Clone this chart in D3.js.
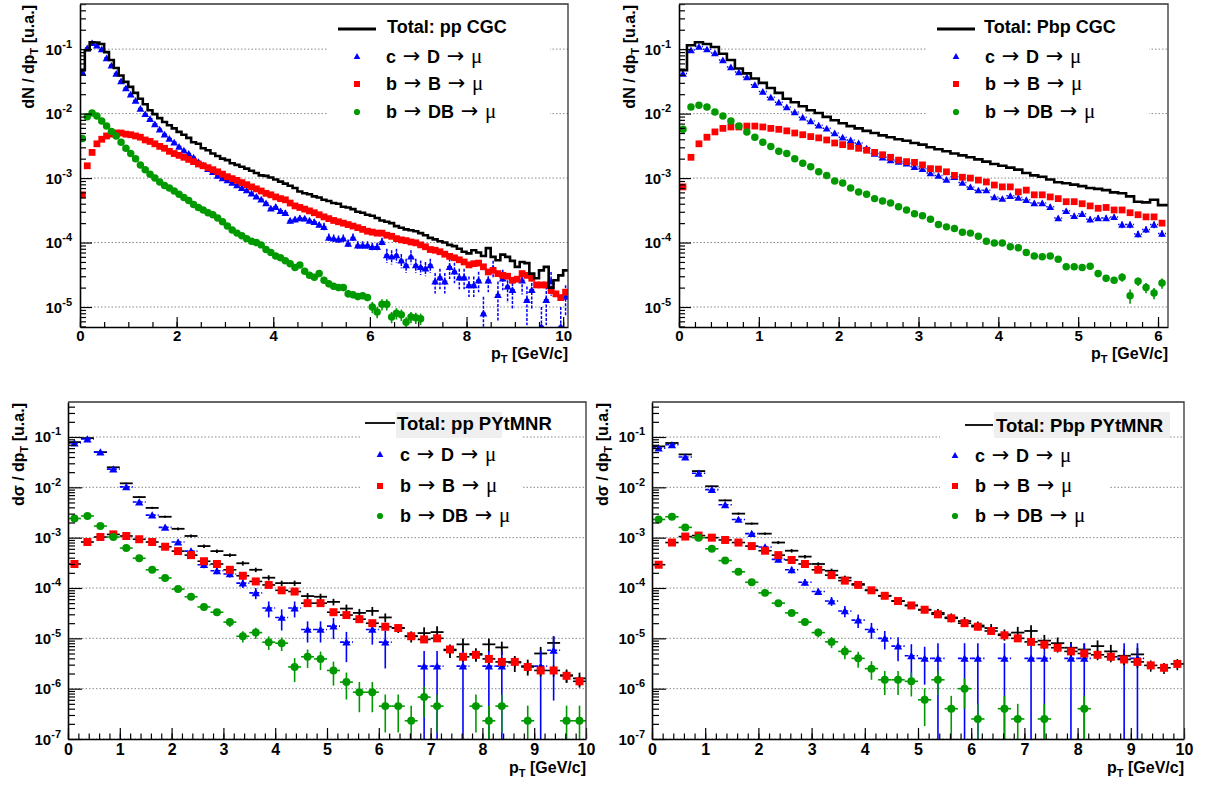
<!DOCTYPE html>
<html><head><meta charset="utf-8">
<script src="https://cdn.jsdelivr.net/npm/d3@7"></script>
<style>
body{margin:0;background:#fff}
svg{display:block}
text{font-family:"Liberation Sans",Arial,sans-serif;font-weight:bold;fill:#000}
</style>
</head><body>
<svg id="c" width="1217" height="787"></svg>
<script>
// ---------------- DATA ----------------
// pp CGC (bins of 0.1 GeV/c from 0)
const ppCgcTotal = [0.047,0.096,0.128,0.127,0.12,0.09,0.068,0.051,0.039,0.031,0.026,0.021,0.017,0.014,0.0113,0.0098,0.0085,0.0074,0.0066,0.0059,
0.0052,0.0047,0.0042,0.0036,0.0034,0.0029,0.0027,0.0024,0.0022,0.0020,0.0019,0.0017,0.0016,0.0015,0.0014,0.0013,0.0012,0.0011,0.00108,0.00102,
0.00095,0.00088,0.00082,0.00076,0.0007,0.00062,0.00058,0.00056,0.00052,0.0005,0.00046,0.00044,0.00041,0.0004,0.00036,0.00035,0.00033,0.0003,0.00029,0.00027,
0.00026,0.00024,0.00022,0.00021,0.0002,0.00018,0.00017,0.00016,0.000155,0.00015,0.00014,0.00013,0.000118,0.000112,0.000105,0.0001,0.000092,0.000088,0.00008,0.000072,
0.000068,0.000076,0.00007,0.000062,0.000082,0.00006,0.000053,0.000065,0.00006,0.000052,0.000042,0.00005,0.000048,0.000033,0.000028,0.000037,0.000042,0.00002,0.000026,0.000031,0.000037];
const ppCgcCharm = [0.044,0.104,0.125,0.115,0.1,0.073,0.056,0.042,0.032,0.025,0.02,0.016,0.012,0.0099,0.0083,0.0069,0.0057,0.0048,0.0041,0.0036,
0.0031,0.0027,0.0024,0.0021,0.0018,0.0016,0.0014,0.00125,0.0011,0.001,0.00093,0.00085,0.00078,0.00071,0.00065,0.00058,0.00052,0.00047,0.00041,0.00034,
0.00036,0.00031,0.00029,0.00022,0.00023,0.00024,0.000237,0.00022,0.00021,0.00019,0.000176,0.00012,0.000116,0.000112,0.000116,0.000097,0.00012,0.000091,0.000091,0.000091,
0.000086,0.000086,0.000103,0.000064,0.000061,0.000064,0.000053,0.000045,0.000061,0.000045,0.000042,0.00004,0.000045,0.000025,0.000029,0.000025,0.000042,0.000036,0.000029,0.000029,
0.000022,0.000022,0.000026,0.000008,0.000026,0.00004,0.0000155,0.000028,0.000021,0.0000185,null,0.000026,0.000013,0.0000185,null,0.000005,0.000013,0.000025,null,0.000005,0.0000145];
const ppCgcCharmErr = [0,0,0,0,0,0,0,0,0,0,0,0,0,0,0,0,0,0,0,0,0,0,0,0,0,0,0,0,0,0,0,0,0,0,0,0,0,0,0,0,
0.1,0.1,0.1,0.1,0.1,0.1,0.1,0.1,0.1,0.1,0.15,0.15,0.15,0.15,0.15,0.15,0.15,0.15,0.15,0.15,0.15,0.15,0.15,0.25,0.25,0.25,0.25,0.25,0.25,0.25,
0.25,0.25,0.25,0.35,0.35,0.35,0.35,0.35,0.35,0.35,0.35,0.35,0.35,0.8,0.35,0.3,0.6,0.35,0.45,0.5,0,0.4,0.6,0.5,0,1,0.6,0.4,0,1,0.5];
const ppCgcBeauty = [0.00055,0.00155,0.0025,0.0034,0.004,0.0045,0.0048,0.005,0.005,0.0048,0.0047,0.0045,0.0043,0.0039,0.0037,0.0034,0.0031,0.0029,0.0026,0.0024,
0.00225,0.0021,0.00195,0.0018,0.00165,0.00155,0.00145,0.00135,0.00125,0.00115,0.00105,0.00098,0.00092,0.00085,0.00079,0.00073,0.00068,0.00063,0.00058,0.00055,
0.00051,0.00048,0.00046,0.00041,0.00037,0.00035,0.00033,0.00031,0.00029,0.00027,0.00025,0.000235,0.00022,0.00021,0.0002,0.00019,0.00018,0.00017,0.00016,0.00015,
0.000145,0.00014,0.00014,0.00013,0.000125,0.000115,0.00011,0.000107,0.000102,0.000099,0.000092,0.000086,0.000078,0.000076,0.000072,0.000066,0.000061,0.000058,0.000054,0.00005,
0.000045,0.000047,0.000048,0.000042,0.000035,0.000037,0.000033,0.000031,0.00003,0.000026,0.000027,0.000033,0.000031,0.000028,0.000022,0.000022,0.000022,0.000018,0.000016,0.000014,0.000017];
const ppCgcBeautyD = [0.0041,0.0089,0.0102,0.0092,0.0077,0.0064,0.0053,0.0045,0.0036,0.0029,0.0024,0.002,0.0016,0.00135,0.00115,0.001,0.00087,0.00077,0.0007,0.00063,
0.00056,0.0005,0.00045,0.00039,0.00035,0.00032,0.00029,0.00027,0.00024,0.00021,0.00018,0.000157,0.00014,0.000127,0.000115,0.000105,0.0001,0.000092,0.000078,0.00007,
0.000062,0.000058,0.000052,0.000047,0.000041,0.000045,0.000036,0.000031,0.000029,0.000033,0.000026,0.000023,0.000021,0.00002,0.00002,0.000016,0.0000155,0.0000145,0.000015,0.000014,
0.00001,0.0000084,0.000011,0.000011,0.000007,0.000008,0.0000076,0.0000058,0.000007,0.0000068,0.0000066];
const ppCgcBeautyDErr = [0,0,0,0,0,0,0,0,0,0,0,0,0,0,0,0,0,0,0,0,0,0,0,0,0,0,0,0,0,0,0,0,0,0,0,0,0,0,0,0,
0.08,0.08,0.08,0.08,0.08,0.08,0.08,0.08,0.08,0.08,0.12,0.12,0.12,0.12,0.12,0.12,0.12,0.12,0.12,0.12,0.2,0.2,0.2,0.2,0.2,0.2,0.2,0.2,0.2,0.2,0.2];

// Pbp CGC (bins of 0.1 GeV/c from 0)
const pbpCgcTotal = [0.047,0.115,0.128,0.12,0.108,0.085,0.068,0.05,0.042,0.035,0.03,0.025,0.021,0.017,0.015,0.013,0.0113,0.0102,0.0089,0.0079,
0.0071,0.0064,0.0059,0.0054,0.005,0.0046,0.0043,0.004,0.0038,0.0035,0.0033,0.003,0.0028,0.0026,0.0024,0.00225,0.0021,0.00195,0.0018,0.00165,
0.00155,0.00145,0.00135,0.0012,0.0011,0.00105,0.00095,0.00086,0.00083,0.00079,0.00075,0.0007,0.00068,0.00065,0.0006,0.00058,0.00052,0.00043,0.00042,0.00046,0.00038,0.00038];
const pbpCgcCharm = [0.042,0.097,0.11,0.1,0.087,0.068,0.053,0.044,0.037,0.028,0.022,0.018,0.015,0.0127,0.0106,0.0088,0.0077,0.0066,0.0059,0.005,
0.0043,0.0039,0.0035,0.0029,0.0024,0.0021,0.0019,0.0018,0.0017,0.0015,0.0014,0.0012,0.0011,0.00095,0.00105,0.00085,0.00073,0.00065,0.00065,0.00051,
0.00048,0.00053,0.0005,0.00046,0.00041,0.00041,0.00036,0.00024,0.00031,0.00026,0.00028,0.00023,0.00024,0.00024,0.00025,0.00019,0.00019,0.000136,0.00016,0.00019,0.000138];
const pbpCgcCharmErr = [0,0,0,0,0,0,0,0,0,0,0,0,0,0,0,0,0,0,0,0,0,0,0,0,0,0,0,0,0,0,0,0,0,0,0,0,0,0,0,0,
0.06,0.06,0.06,0.06,0.06,0.08,0.08,0.08,0.08,0.08,0.1,0.1,0.1,0.1,0.1,0.12,0.12,0.12,0.12,0.12,0.12];
const pbpCgcBeauty = [0.00073,0.0021,0.0034,0.0043,0.0052,0.0059,0.0062,0.0062,0.0064,0.0064,0.0062,0.0059,0.0057,0.0054,0.005,0.0047,0.0044,0.0042,0.0039,0.0035,
0.0033,0.0031,0.0029,0.0027,0.0025,0.0023,0.0021,0.0019,0.0018,0.00175,0.0016,0.0014,0.00138,0.00125,0.0011,0.00103,0.001,0.00093,0.00087,0.00078,
0.00073,0.00073,0.00061,0.00065,0.00055,0.00055,0.00051,0.00048,0.00043,0.00043,0.0004,0.00037,0.00034,0.00035,0.00032,0.00032,0.00029,0.00027,0.00025,0.00025,0.0002];
const pbpCgcBeautyD = [0.0057,0.0127,0.0135,0.0127,0.0106,0.0092,0.0077,0.0064,0.0052,0.0043,0.0036,0.0031,0.0026,0.0024,0.002,0.0017,0.0015,0.00125,0.0011,0.0009,
0.00084,0.0007,0.00061,0.00056,0.00048,0.00044,0.00041,0.00036,0.00032,0.00028,0.00026,0.00023,0.00019,0.000175,0.000165,0.000145,0.00014,0.000125,0.000105,0.000098,
0.000098,0.000086,0.000083,0.00007,0.000062,0.00006,0.000062,0.000055,0.000042,0.000042,0.000041,0.000043,0.000033,0.000028,0.000026,0.000029,0.000015,0.000025,0.00002,0.0000165,0.0000235];
const pbpCgcBeautyDErr = [0,0,0,0,0,0,0,0,0,0,0,0,0,0,0,0,0,0,0,0,0,0,0,0,0,0,0,0,0,0,0,0,0,0,0,0,0,0,0,0,
0.05,0.05,0.05,0.05,0.06,0.06,0.06,0.06,0.08,0.08,0.1,0.1,0.12,0.12,0.12,0.15,0.25,0.15,0.18,0.2,0.18];

// pp PYtMNR (bins of 0.25 GeV/c from 0)
const ppMnrTotal = [0.079,0.095,0.05,0.025,0.012,0.0064,0.0039,0.0026,0.0015,0.00108,0.00068,0.00054,0.00045,0.00031,0.00023,0.00016,0.000125,0.000125,0.000069,0.000067,
0.000053,0.000039,0.000032,0.000035,0.000026,0.000016,0.000011,0.0000127,0.0000133,0.0000058,0.0000076,0.0000049,0.0000076,0.0000066,0.0000033,0.0000028,0.000005,0.0000081,0.00000185,0.0000016];
const ppMnrTotalErr = [0.02,0.02,0.02,0.03,0.03,0.04,0.05,0.05,0.06,0.07,0.08,0.08,0.08,0.1,0.1,0.12,0.12,0.12,0.15,0.15,
0.15,0.2,0.2,0.2,0.2,0.2,0.25,0.3,0.3,0.3,0.3,0.3,0.3,0.3,0.35,0.35,0.35,0.35,0.3,0.3];
const ppMnrCharm = [0.076,0.091,0.05,0.023,0.0102,0.0051,0.0028,0.0016,0.00082,0.00054,0.00029,0.00022,0.00019,0.000125,0.00008,0.00004,0.000026,0.00004,0.000015,0.000015,
0.0000175,0.0000084,null,0.000015,0.0000084,null,null,0.0000028,0.0000028,null,0.0000028,null,0.0000028,0.0000028,null,null,0.0000028,0.0000058,null,null];
const ppMnrCharmErr = [0.03,0.03,0.04,0.05,0.06,0.07,0.08,0.1,0.1,0.12,0.15,0.15,0.15,0.2,0.25,0.35,0.45,0.35,0.45,0.45,
0.45,0.6,0,0.5,0.7,0,0,1,1,0,1,0,1,1,0,0,1,0.9,0,0];
const ppMnrBeauty = [0.0003,0.00082,0.00103,0.00116,0.00108,0.00093,0.00082,0.00066,0.00054,0.00045,0.00034,0.0003,0.00023,0.000175,0.000135,0.000115,0.00009,0.000085,0.00005,0.00005,
0.000033,0.000029,0.000024,0.00002,0.000017,0.000016,0.000011,0.0000095,0.00001,0.000006,0.0000043,0.0000047,0.0000039,0.0000034,0.0000034,0.0000027,0.0000023,0.0000023,0.0000018,0.0000014];
const ppMnrBeautyErr = [0.03,0.03,0.03,0.03,0.03,0.03,0.03,0.04,0.04,0.04,0.05,0.05,0.05,0.06,0.06,0.06,0.07,0.07,0.08,0.08,
0.1,0.1,0.1,0.12,0.12,0.12,0.14,0.15,0.15,0.18,0.2,0.2,0.2,0.22,0.22,0.22,0.25,0.25,0.25,0.25];
const ppMnrBeautyD = [0.0024,0.0027,0.0017,0.00103,0.00062,0.00039,0.00023,0.000158,0.000095,0.000067,0.000042,0.000033,0.000021,0.000011,0.000013,0.0000084,0.000008,0.0000027,0.0000043,0.0000039,
0.0000023,0.00000135,0.00000085,0.00000085,0.00000045,0.00000045,0.00000023,0.00000068,0.00000045,null,null,0.00000045,0.00000023,0.00000045,null,0.00000023,null,null,0.00000023,0.00000023];
const ppMnrBeautyDErr = [0.03,0.03,0.04,0.05,0.06,0.07,0.08,0.1,0.12,0.12,0.15,0.15,0.2,0.25,0.25,0.3,0.3,0.5,0.4,0.4,
0.5,0.55,0.6,0.6,0.7,0.7,1,0.6,0.7,0,0,0.7,1,0.7,0,1,0,0,1,1];

// Pbp PYtMNR (bins of 0.25 GeV/c from 0)
const pbpMnrTotal = [0.065,0.076,0.045,0.021,0.0105,0.0055,0.003,0.0019,0.0012,0.0008,0.00055,0.00042,0.0003,0.00022,0.00016,0.00012,0.00009,0.00007,0.000055,0.000045,
0.000037,0.000032,0.000026,0.000022,0.000018,0.000016,0.000012,0.000013,0.000014,0.000009,0.000008,0.0000065,0.000006,0.000007,0.0000055,0.0000045,0.0000048,null,null,null];
const pbpMnrTotalErr = ppMnrTotalErr;
const pbpMnrCharm = [0.06,0.07,0.04,0.019,0.009,0.0045,0.0023,0.0012,0.00065,0.00037,0.00023,0.00013,0.000085,0.000055,0.000035,0.000023,0.000015,0.00001,0.000007,0.0000045,
0.000004,0.000004,null,0.000004,0.000004,null,0.000004,null,0.000004,0.000004,null,0.000004,0.000004,null,null,0.000004,0.000004,null,null,null];
const pbpMnrCharmErr = [0.03,0.03,0.04,0.05,0.06,0.07,0.08,0.1,0.1,0.12,0.15,0.15,0.15,0.2,0.25,0.3,0.35,0.4,0.5,0.7,
0.7,1,0,1,1,0,1,0,1,1,0,1,1,0,0,1,1,0,0,0];
const pbpMnrBeauty = [0.00029,0.0008,0.00105,0.0011,0.001,0.0009,0.0008,0.00068,0.00055,0.00045,0.00036,0.0003,0.00023,0.00018,0.00014,0.000115,0.00009,0.00007,0.000055,0.000045,
0.000037,0.00003,0.000025,0.00002,0.000017,0.000014,0.0000115,0.00001,0.0000085,0.0000075,0.0000065,0.0000055,0.000005,0.0000047,0.0000043,0.0000038,0.0000034,0.0000029,0.0000026,0.0000031];
const pbpMnrBeautyErr = ppMnrBeautyErr;
const pbpMnrBeautyD = [0.0023,0.0026,0.0016,0.001,0.0006,0.00035,0.00021,0.00013,0.00008,0.00005,0.000032,0.000021,0.000013,0.0000085,0.0000055,0.000004,0.0000025,0.0000015,0.0000015,0.0000014,
0.0000006,0.0000015,0.0000004,0.000001,0.00000025,null,0.0000004,0.00000025,null,0.00000025,null,null,0.0000004,null,null,null,null,null,null,null];
const pbpMnrBeautyDErr = [0.03,0.03,0.04,0.05,0.06,0.07,0.08,0.1,0.12,0.12,0.15,0.15,0.2,0.25,0.3,0.35,0.4,0.5,0.5,0.5,
0.7,0.5,0.8,0.6,1,0,0.8,1,0,1,0,0,0.8,0,0,0,0,0,0,0];

// labels
const legendEntries = [["c","D"],["b","B"],["b","DB"]];
const panelTitles = ["Total:  pp CGC","Total:  Pbp CGC","Total:  pp PYtMNR","Total:  Pbp PYtMNR"];

// ---------------- DRAWING ----------------
const svg = d3.select('#c');
const BLUE = '#0000ff', RED = '#ff0000', GREEN = '#009a00';
let clipId = 0;

function symPath(type, area){
  const t = type==='tri'?d3.symbolTriangle:(type==='sq'?d3.symbolSquare:d3.symbolCircle);
  return d3.symbol().type(t).size(area)();
}

function drawPanel(p){
  const g = svg.append('g');
  const x = d3.scaleLinear().domain(p.xDomain).range([p.left,p.right]);
  const y = d3.scaleLog().domain(p.yDomain).range([p.bottom,p.top]);
  const id = 'clip'+(clipId++);
  g.append('clipPath').attr('id',id).append('rect')
    .attr('x',p.left).attr('y',p.top).attr('width',p.right-p.left).attr('height',p.bottom-p.top);

  const e0 = Math.ceil(Math.log10(p.yDomain[0])-1e-9), e1 = Math.floor(Math.log10(p.yDomain[1])+1e-9);
  const decades = d3.range(e0,e1+1).map(e=>Math.pow(10,e));
  g.append('g').selectAll('line').data(decades).join('line')
    .attr('x1',p.left).attr('x2',p.right).attr('y1',d=>y(d)).attr('y2',d=>y(d))
    .attr('stroke','#8a8a8a').attr('stroke-width',1).attr('stroke-dasharray','1.5,2');

  const L = p.legend;
  g.append('rect').attr('x',L.box[0]).attr('y',L.box[1]).attr('width',L.box[2]).attr('height',L.box[3]).attr('fill','#fff');

  const dg = g.append('g').attr('clip-path','url(#'+id+')');
  const bw = p.binWidth;
  const yb = v => (v<=p.yDomain[0]? p.bottom+2 : y(v));

  p.series.forEach(s=>{
    const sg = dg.append('g');
    if(s.kind==='hist'){
      let d='';
      s.values.forEach((v,i)=>{ if(v==null) return; const yy=y(v);
        d += (d?'L':'M')+x(i*bw)+','+yy+'L'+x((i+1)*bw)+','+yy; });
      sg.append('path').attr('d',d).attr('fill','none').attr('stroke','#000').attr('stroke-width',s.lw||2.6);
      return;
    }
    const pts = s.values.map((v,i)=>({v,i,e:s.err?s.err[i]:0})).filter(o=>o.v!=null);
    if(s.xbar){
      sg.append('g').selectAll('line').data(pts).join('line')
        .attr('x1',o=>x(o.i*bw)).attr('x2',o=>x((o.i+1)*bw)).attr('y1',o=>y(o.v)).attr('y2',o=>y(o.v))
        .attr('stroke',s.barColor).attr('stroke-width',s.barW||1.5).attr('stroke-dasharray',s.xdash||null);
    }
    sg.append('g').selectAll('line').data(pts.filter(o=>o.e>0)).join('line')
      .attr('x1',o=>x((o.i+0.5)*bw)).attr('x2',o=>x((o.i+0.5)*bw))
      .attr('y1',o=>y(o.v*(1+o.e))).attr('y2',o=>yb(o.v*(1-o.e)))
      .attr('stroke',s.barColor).attr('stroke-width',s.barW||1.5).attr('stroke-dasharray',s.ydash||null);
    if(s.marker){
      sg.append('g').selectAll('path').data(pts).join('path')
        .attr('d',symPath(s.marker,s.size))
        .attr('transform',o=>`translate(${x((o.i+0.5)*bw)},${y(o.v)+(s.marker==='tri'?1:0)})`)
        .attr('fill',s.color);
    }
  });

  // axes
  const axG = g.append('g');
  const yMinor = [];
  for(let e=e0-1;e<=e1;e++) for(let m=2;m<=9;m++){const v=m*Math.pow(10,e); if(v>=p.yDomain[0]&&v<=p.yDomain[1]) yMinor.push(v);}
  const yMin = axG.append('g').attr('transform',`translate(${p.left},0)`)
    .call(d3.axisLeft(y).tickValues(yMinor).tickSize(-p.yTick/2).tickSizeOuter(0).tickFormat(''));
  yMin.select('.domain').remove();
  const yMaj = axG.append('g').attr('transform',`translate(${p.left},0)`)
    .call(d3.axisLeft(y).tickValues(decades).tickSize(-p.yTick).tickSizeOuter(0).tickPadding(p.yPad));
  yMaj.attr('font-family',null).attr('font-size',null);
  yMaj.selectAll('.tick text').each(function(d){
    const t=d3.select(this); t.text(null).attr('dy',null).attr('y',5).style('font-size','15px');
    t.append('tspan').text('10');
    t.append('tspan').attr('dy',-7).style('font-size','11px').text(Math.round(Math.log10(d)));
  });
  yMaj.select('.domain').attr('stroke-width',1.6);
  const xMinorV = d3.range(0,p.xDomain[1]+1e-9,p.xMinorStep);
  const xMin = axG.append('g').attr('transform',`translate(0,${p.bottom})`)
    .call(d3.axisBottom(x).tickValues(xMinorV).tickSize(-p.xTick/2).tickSizeOuter(0).tickFormat(''));
  xMin.select('.domain').remove();
  const xMaj = axG.append('g').attr('transform',`translate(0,${p.bottom})`)
    .call(d3.axisBottom(x).tickValues(p.xMajor).tickSize(-p.xTick).tickSizeOuter(0).tickPadding(4).tickFormat(d3.format('d')));
  xMaj.attr('font-family',null).attr('font-size',null);
  xMaj.selectAll('.tick text').attr('dy',null).attr('y',p.xLabelY).style('font-size',p.xLabelSize+'px');
  xMaj.select('.domain').attr('stroke-width',1.6);
  axG.selectAll('.tick line').attr('stroke','#000').attr('stroke-width',1.2);
  g.append('path').attr('d',`M${p.left},${p.top}H${p.right}V${p.bottom}`).attr('fill','none').attr('stroke','#333').attr('stroke-width',1.3);

  // axis titles
  const yt = g.append('text').attr('transform',`translate(${p.yTitleX},${p.top+1}) rotate(-90)`)
    .attr('text-anchor','end').style('font-size','16px');
  yt.append('tspan').text(p.yTitleA);
  yt.append('tspan').text(' / dp');
  yt.append('tspan').attr('dy',4).style('font-size','11px').text('T');
  yt.append('tspan').attr('dy',-4).text(' [u.a.]');
  const xt = g.append('text').attr('x',p.right).attr('y',p.bottom+p.xTitleDY).attr('text-anchor','end').style('font-size','16px');
  xt.append('tspan').text('p');
  xt.append('tspan').attr('dy',4).style('font-size','11px').text('T');
  xt.append('tspan').attr('dy',-4).text(' [GeV/c]');

  // legend content
  if(L.gray) g.append('rect').attr('x',L.gray[0]).attr('y',L.gray[1]).attr('width',L.gray[2]).attr('height',L.gray[3]).attr('fill','#efefef');
  g.append('line').attr('x1',L.line[0]).attr('x2',L.line[1]).attr('y1',L.line[2]).attr('y2',L.line[2])
    .attr('stroke','#000').attr('stroke-width',L.lineW);
  g.append('text').attr('x',L.headX).attr('y',L.headY).style('font-size',L.headSize+'px').text(p.title);
  const mk = [['tri',BLUE,20],['sq',RED,36],['circle',GREEN,30]];
  legendEntries.forEach((en,k)=>{
    const yy = L.rowY[k];
    g.append('path').attr('d',symPath(mk[k][0],mk[k][2])).attr('transform',`translate(${L.markX},${yy})`).attr('fill',mk[k][1]);
    const t = g.append('text').attr('x',L.textX).attr('y',yy+6).style('font-size','18px');
    t.append('tspan').text(en[0]);
    t.append('tspan').style('font-weight','normal').style('font-family','DejaVu Sans').style('font-size','21px').text(' \u2192 ');
    t.append('tspan').text(en[1]);
    t.append('tspan').style('font-weight','normal').style('font-family','DejaVu Sans').style('font-size','21px').text(' \u2192 ');
    t.append('tspan').style('font-weight','normal').style('font-family','Liberation Serif').style('font-size','21px').text('\u03bc');
  });
}

const TOPY = [Math.pow(10,-5.31), Math.pow(10,-0.30)];
const BOTY = [1e-7, Math.pow(10,-0.305)];

function cgcSeries(tot,ch,chE,be,bd,bdE){
  return [
    {kind:'pts',values:ch,err:chE,marker:'tri',size:26,color:BLUE,barColor:BLUE,xbar:true,xdash:'1.5,2',ydash:'3,1.5',barW:1.5},
    {kind:'pts',values:be,marker:'sq',size:46,color:RED,barColor:RED},
    {kind:'pts',values:bd,err:bdE,marker:'circle',size:44,color:GREEN,barColor:GREEN,barW:1.6},
    {kind:'hist',values:tot,lw:2.6}
  ];
}
function mnrSeries(tot,totE,ch,chE,be,beE,bd,bdE){
  return [
    {kind:'pts',values:tot,err:totE,xbar:true,barColor:'#000',barW:1.8},
    {kind:'pts',values:ch,err:chE,marker:'tri',size:30,color:BLUE,barColor:BLUE,xbar:true,xdash:'4,2',barW:1.6},
    {kind:'pts',values:be,err:beE,marker:'sq',size:64,color:RED,barColor:'#000',xbar:true,barW:1.6},
    {kind:'pts',values:bd,err:bdE,marker:'circle',size:50,color:GREEN,barColor:GREEN,xbar:true,barW:1.6}
  ];
}

drawPanel({left:80,right:568,top:4,bottom:327,xDomain:[0,10.1],xMajor:[0,2,4,6,8,10],xMinorStep:0.5,
  yDomain:TOPY,binWidth:0.1,yTick:12,xTick:10,yPad:8,xLabelY:14,xLabelSize:15,yTitleX:34,xTitleDY:32,yTitleA:'dN',title:panelTitles[0],
  series:cgcSeries(ppCgcTotal,ppCgcCharm,ppCgcCharmErr,ppCgcBeauty,ppCgcBeautyD,ppCgcBeautyDErr),
  legend:{box:[328,10,222,120],line:[338,376,29],lineW:3,headX:387,headY:33,headSize:18,markX:357,rowY:[57,84,112],textX:386}});

drawPanel({left:679,right:1168,top:4,bottom:327,xDomain:[0,6.125],xMajor:[0,1,2,3,4,5,6],xMinorStep:0.2,
  yDomain:TOPY,binWidth:0.1,yTick:12,xTick:10,yPad:8,xLabelY:14,xLabelSize:15,yTitleX:635,xTitleDY:32,yTitleA:'dN',title:panelTitles[1],
  series:cgcSeries(pbpCgcTotal,pbpCgcCharm,pbpCgcCharmErr,pbpCgcBeauty,pbpCgcBeautyD,pbpCgcBeautyDErr),
  legend:{box:[927,10,222,120],line:[937,975,29],lineW:3,headX:984,headY:33,headSize:18,markX:956,rowY:[57,84,112],textX:985}});

drawPanel({left:68,right:586,top:402,bottom:739,xDomain:[0,10],xMajor:d3.range(0,11),xMinorStep:0.2,
  yDomain:BOTY,binWidth:0.25,yTick:14,xTick:11,yPad:7,xLabelY:16,xLabelSize:16,yTitleX:24,xTitleDY:34,yTitleA:'d\u03c3',title:panelTitles[2],
  series:mnrSeries(ppMnrTotal,ppMnrTotalErr,ppMnrCharm,ppMnrCharmErr,ppMnrBeauty,ppMnrBeautyErr,ppMnrBeautyD,ppMnrBeautyDErr),
  legend:{box:[360,405,162,125],gray:[396,412,106,26],line:[365,395,423],lineW:1.8,headX:397,headY:430,headSize:18.5,markX:380,rowY:[455,486,516],textX:400}});

drawPanel({left:652,right:1184,top:402,bottom:739,xDomain:[0,10],xMajor:d3.range(0,11),xMinorStep:0.2,
  yDomain:BOTY,binWidth:0.25,yTick:14,xTick:11,yPad:7,xLabelY:16,xLabelSize:16,yTitleX:608,xTitleDY:34,yTitleA:'d\u03c3',title:panelTitles[3],
  series:mnrSeries(pbpMnrTotal,pbpMnrTotalErr,pbpMnrCharm,pbpMnrCharmErr,pbpMnrBeauty,pbpMnrBeautyErr,pbpMnrBeautyD,pbpMnrBeautyDErr),
  legend:{box:[940,405,170,125],gray:[994,412,176,26],line:[965,993,425],lineW:1.8,headX:996,headY:432,headSize:18.5,markX:955,rowY:[456,486,516],textX:975}});
</script>
</body></html>
